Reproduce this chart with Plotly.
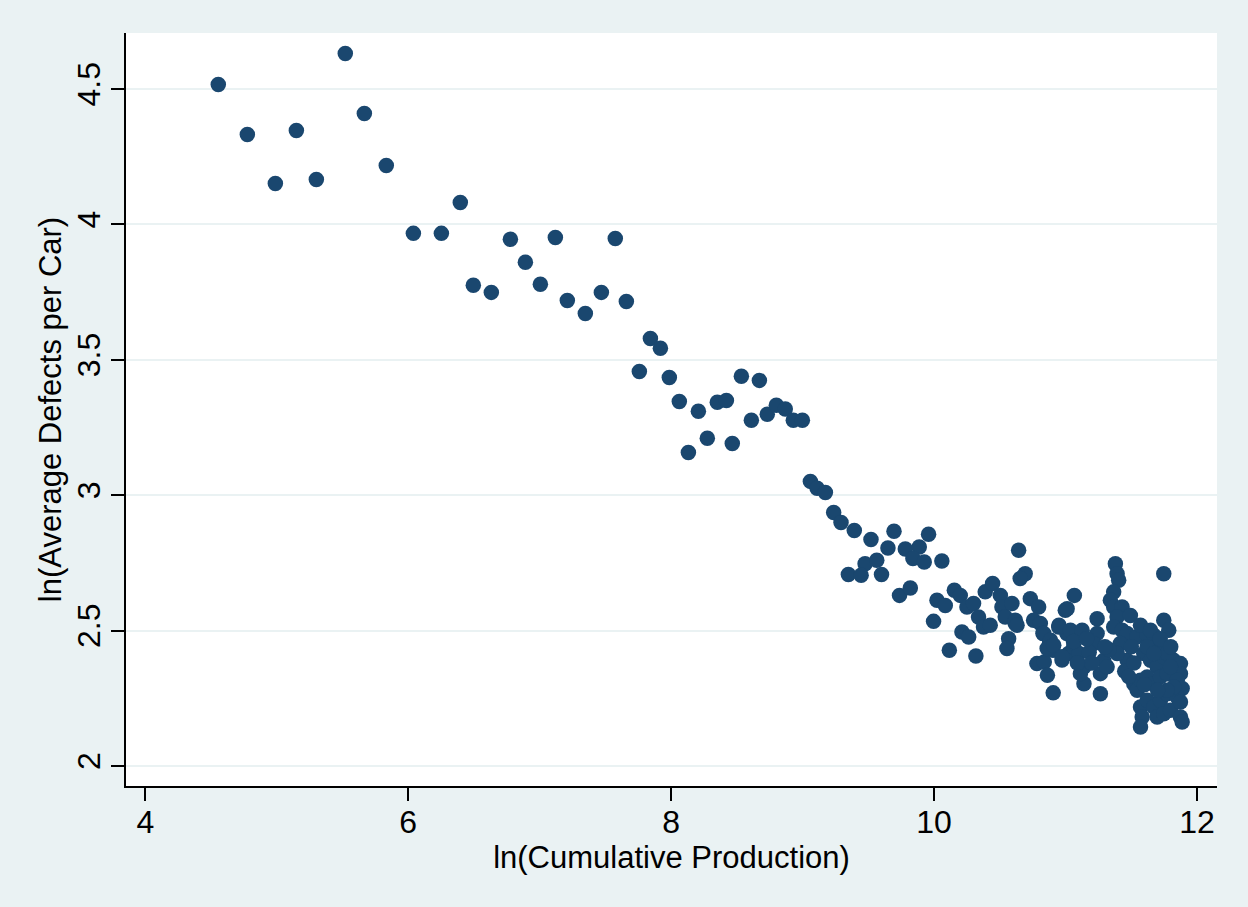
import plotly.graph_objects as go

# ln(Cumulative Production)
x_vals = [
    4.555, 4.776, 4.989, 5.149, 5.301, 5.521, 5.666, 5.833, 6.039, 6.252,
    6.396, 6.495, 6.632, 6.777, 6.891, 7.005, 7.119, 7.210, 7.347, 7.469,
    7.575, 7.659, 7.758, 7.842, 7.918, 7.986, 8.062, 8.131, 8.207, 8.275,
    8.351, 8.420, 8.465, 8.534, 8.610, 8.671, 8.731, 8.800, 8.868, 8.929,
    8.998, 9.059, 9.110, 9.173,
    9.236, 9.292, 9.393, 9.520, 9.695, 9.649, 9.781, 9.887, 9.958, 9.839,
    9.925, 10.059, 9.475, 9.564, 9.348, 9.445, 9.600, 9.737, 9.819, 9.996,
    10.022, 10.085, 10.116, 10.154, 10.199, 10.250, 10.300, 10.212, 10.263, 10.318,
    10.338, 10.376, 10.427, 10.389, 10.445, 10.504, 10.516, 10.541, 10.592, 10.617,
    10.567, 10.554, 10.643, 10.693, 10.655, 10.732, 10.795, 10.757, 10.808, 10.828,
    10.879, 10.904, 10.782, 10.838, 10.862, 10.906, 10.950, 11.010, 10.998, 10.973,
    11.024,
    10.618, 10.631, 10.834, 10.885, 10.860, 10.910, 10.948, 11.037, 11.126, 11.067,
    11.012, 10.974, 11.062, 11.102, 11.140, 11.140, 11.113, 11.265, 11.240, 11.240,
    11.214, 11.290, 11.265, 11.316, 11.379, 11.392, 11.404, 11.366, 11.341, 11.366,
    11.430, 11.392, 11.366, 11.430, 11.468, 11.417, 11.468, 11.392, 11.519, 11.545,
    11.570, 11.570, 11.583, 11.570, 11.545, 11.621, 11.671, 11.697, 11.595, 11.646,
    11.697, 11.747, 11.621, 11.671, 11.722, 11.773, 11.621, 11.671, 11.722, 11.773,
    11.697, 11.747, 11.798, 11.874, 11.887, 11.747, 11.747, 11.785, 11.823, 11.874,
    11.874, 11.849, 11.887, 11.849, 11.874, 11.773, 11.798, 11.823, 11.773, 11.621,
    11.671, 11.493, 11.570, 11.646,
    11.180, 11.200, 11.330, 11.450, 11.500, 11.520, 11.600, 11.700, 11.720, 11.800,
    11.060, 11.090, 11.160, 11.300, 11.480,
]

# ln(Average Defects per Car)
y_vals = [
    4.517, 4.332, 4.151, 4.347, 4.166, 4.631, 4.410, 4.218, 3.967, 3.967,
    4.081, 3.775, 3.749, 3.945, 3.860, 3.779, 3.952, 3.719, 3.671, 3.749,
    3.948, 3.715, 3.457, 3.579, 3.543, 3.435, 3.346, 3.158, 3.310, 3.210,
    3.343, 3.350, 3.191, 3.439, 3.277, 3.424, 3.299, 3.332, 3.318, 3.277,
    3.277, 3.051, 3.026, 3.010,
    2.936, 2.899, 2.870, 2.836, 2.867, 2.805, 2.801, 2.809, 2.856, 2.766,
    2.753, 2.757, 2.747, 2.760, 2.707, 2.704, 2.707, 2.630, 2.657, 2.534,
    2.612, 2.593, 2.427, 2.649, 2.630, 2.587, 2.600, 2.495, 2.476, 2.406,
    2.550, 2.513, 2.520, 2.643, 2.674, 2.630, 2.587, 2.550, 2.600, 2.526,
    2.470, 2.434, 2.797, 2.710, 2.692, 2.618, 2.587, 2.538, 2.526, 2.489,
    2.458, 2.427, 2.378, 2.384, 2.335, 2.270, 2.520, 2.489, 2.575, 2.391,
    2.415,
    2.538, 2.520, 2.489, 2.464, 2.434, 2.446, 2.513, 2.501, 2.501, 2.630,
    2.581, 2.403, 2.440, 2.415, 2.366, 2.304, 2.341, 2.267, 2.544, 2.489,
    2.452, 2.390, 2.341, 2.366, 2.747, 2.710, 2.686, 2.643, 2.612, 2.587,
    2.587, 2.550, 2.513, 2.501, 2.489, 2.452, 2.390, 2.415, 2.304, 2.280,
    2.317, 2.218, 2.181, 2.144, 2.477, 2.483, 2.483, 2.446, 2.415, 2.390,
    2.366, 2.403, 2.329, 2.304, 2.329, 2.341, 2.243, 2.218, 2.243, 2.267,
    2.181, 2.193, 2.206, 2.181, 2.162, 2.710, 2.538, 2.501, 2.390, 2.378,
    2.341, 2.317, 2.286, 2.255, 2.236, 2.415, 2.366, 2.292, 2.280, 2.440,
    2.415, 2.556, 2.520, 2.501,
    2.420, 2.380, 2.430, 2.350, 2.440, 2.380, 2.300, 2.280, 2.470, 2.440,
    2.460, 2.380, 2.470, 2.440, 2.330,
]

x_ticks = [4, 6, 8, 10, 12]
y_ticks = [2, 2.5, 3, 3.5, 4, 4.5]
y_tick_text = ["2", "2.5", "3", "3.5", "4", "4.5"]

x_title = "ln(Cumulative Production)"
y_title = "ln(Average Defects per Car)"

FONT = "Liberation Sans, Arial, sans-serif"
BG = "#EAF2F3"
MARK = "#1A476F"

fig = go.Figure(
    go.Scatter(
        x=x_vals, y=y_vals, mode="markers",
        marker=dict(size=15.5, color=MARK, line=dict(width=0)),
        hoverinfo="x+y", showlegend=False,
    )
)

fig.update_layout(
    width=1248, height=907, autosize=False,
    margin=dict(l=126, r=31, t=33, b=121, pad=0),
    paper_bgcolor=BG, plot_bgcolor="white",
    font=dict(family=FONT, color="black"),
)

fig.update_xaxes(
    range=[3.853, 12.152], tickvals=x_ticks,
    ticks="outside", ticklen=13, tickwidth=2, tickcolor="black",
    ticklabelstandoff=-6,
    showline=True, linecolor="black", linewidth=2,
    showgrid=False, zeroline=False,
    tickfont=dict(size=32, family=FONT, color="black"),
    title=dict(text=x_title, font=dict(size=31, family=FONT, color="black"), standoff=0),
)

fig.update_yaxes(
    range=[1.926, 4.707], tickvals=y_ticks, ticktext=y_tick_text, tickangle=-90,
    ticks="outside", ticklen=13, tickwidth=2, tickcolor="black",
    ticklabelstandoff=-2,
    showline=True, linecolor="black", linewidth=2,
    showgrid=True, gridcolor=BG, gridwidth=2, zeroline=False,
    tickfont=dict(size=32, family=FONT, color="black"),
    title=dict(text=y_title, font=dict(size=31, family=FONT, color="black"), standoff=0),
)

fig.write_html(
    "out.html",
    config={"displayModeBar": False},
    post_script="document.body.style.margin='0';document.body.style.background='#EAF2F3';",
)
